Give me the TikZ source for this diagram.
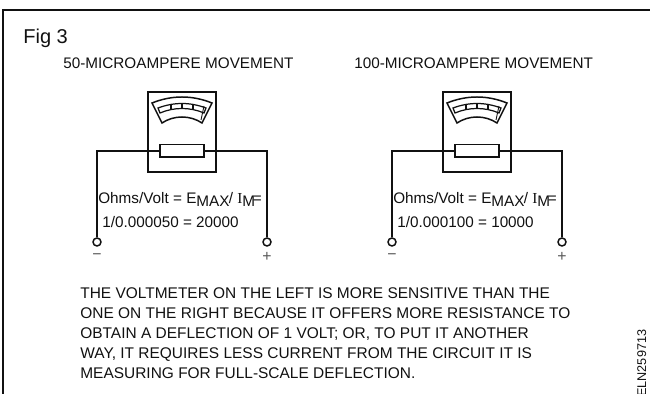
\documentclass[tikz,border=0pt]{standalone}
\usepackage{fontspec}
\setmainfont{Liberation Sans}
\usetikzlibrary{positioning}
\definecolor{figink}{HTML}{111111}

\begin{document}
\begin{tikzpicture}[
      x=0.02cm,
      y=-0.02cm,
      line cap=butt,
      wire/.style={line width=0.85pt, draw=figink},
      casebox/.style={line width=0.85pt, draw=figink},
      resistor/.style={draw=figink, line width=0.85pt, fill=white, minimum width=0.88cm, minimum height=0.25cm, inner sep=0pt},
      terminal/.style={circle, draw=figink, line width=0.85pt, fill=white, minimum size=0.16cm, inner sep=0pt},
      heading/.style={font=\fontsize{8.7}{10}\selectfont, text=figink, anchor=base west, inner sep=0pt},
      formula/.style={font=\fontsize{8.7}{10}\selectfont, text=figink, anchor=base west, inner sep=0pt},
      bodytext/.style={font=\fontsize{8.8}{10}\selectfont, text=figink, anchor=base west, inner sep=0pt},
      polarity/.style={font=\fontsize{9}{10}\selectfont, text=figink!70, inner sep=0pt}
  ]
    \useasboundingbox (0,0) rectangle (650,394);
    \draw[line width=1pt, draw=figink] (3,394) -- (3,10) -- (650,10);
    \node[font=\fontsize{11.4}{13}\selectfont, text=figink, anchor=base west, inner sep=0pt] (figlabel) at (23,44) {Fig 3};
    % the two movements
    \foreach \ox/\mname/\mhead/\mcalc/\hx in {0/a/50-MICROAMPERE MOVEMENT/1\slash 0.000050 = 20000/63, 295/b/100-MICROAMPERE MOVEMENT/1\slash 0.000100 = 10000/59} {
      \begin{scope}[xshift=\ox*0.02cm]
        \node[heading] (head\mname) at (\hx,69) {\mhead};
        \draw[casebox] (148,92) rectangle (216,172);
        % meter face
        \draw[wire] (152,103) .. controls (172,95) and (192,95) .. (212,103)
          -- (202,123) .. controls (190,115) and (174,115) .. (162,123) -- cycle;
        \draw[wire, line width=0.7pt] (158,108) .. controls (174,102) and (190,102) .. (206,108)
          -- (204,113) .. controls (190,107) and (174,107) .. (160,113) -- cycle;
        \foreach \tx/\ty/\tz in {171/104/109, 182/103/108, 193/104/109}
          \draw[wire, line width=0.7pt] (\tx,\ty) -- (\tx,\tz);
        \draw[wire, line width=0.5pt] (204,106) -- (201,120);
        \node[resistor] (res\mname) at (182,151) {};
        \node[terminal] (neg\mname) at (97,242) {};
        \node[terminal] (pos\mname) at (267,242) {};
        \draw[wire] (neg\mname) |- (res\mname);
        \draw[wire] (pos\mname) |- (res\mname);
        \node[formula] (ohms\mname) at (98,204) {Ohms/Volt = E\raisebox{-0.35ex}{MAX}\kern-0.4pt/ {\fontspec{Liberation Serif}I}\raisebox{-0.35ex}{M}\kern-1.4pt=};
        \node[formula] (calc\mname) at (102,228) {\mcalc};
        \node[polarity] (minus\mname) at (97,257) {\textminus};
        \node[polarity] (plus\mname) at (267,257) {+};
      \end{scope}
    }
    \node[bodytext] (line1) at (80,299) {THE VOLTMETER ON THE LEFT IS MORE SENSITIVE THAN THE};
    \node[bodytext] (line2) at (80,319) {ONE ON THE RIGHT BECAUSE IT OFFERS MORE RESISTANCE TO};
    \node[bodytext] (line3) at (80,339) {OBTAIN A DEFLECTION OF 1 VOLT; OR, TO PUT IT ANOTHER};
    \node[bodytext] (line4) at (80,359) {WAY, IT REQUIRES LESS CURRENT FROM THE CIRCUIT IT IS};
    \node[bodytext] (line5) at (80,379) {MEASURING FOR FULL-SCALE DEFLECTION.};
    \node[font=\fontsize{7.2}{8}\selectfont, text=figink, rotate=90, anchor=base west, inner sep=0pt] (figcode) at (646,397) {ELN259713};
  \end{tikzpicture}
\end{document}
